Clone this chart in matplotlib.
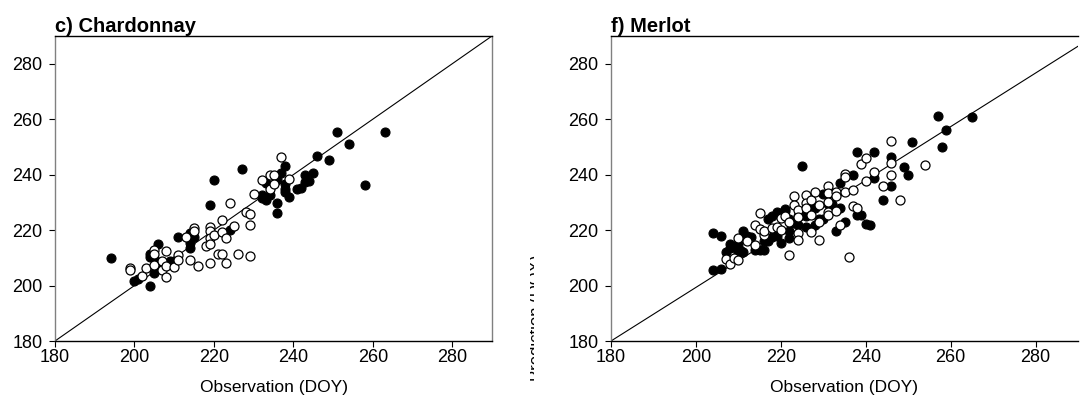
import matplotlib
matplotlib.use("Agg")
import matplotlib.pyplot as plt
from matplotlib.transforms import Bbox

plt.rcParams['font.family'] = ['Liberation Sans', 'DejaVu Sans']

# Chardonnay: observation vs prediction (DOY)
chard_fill_obs = [194, 200, 201, 204, 204, 204, 205, 205, 206, 206, 209, 210, 211, 214, 214, 214,
                  215, 219, 220, 224, 227, 232, 232, 233, 233, 234, 236, 236, 236, 237, 238, 238,
                  238, 238, 239, 241, 242, 243, 243, 244, 245, 246, 249, 251, 254, 258, 263]
chard_fill_pred = [210, 201.5, 202.2, 199.8, 210.4, 211.5, 204.4, 209.8, 215.1, 207, 208.9, 209,
                   217.5, 213.7, 219, 215.5, 217.5, 229.1, 237.9, 220, 242.2, 232.6, 231.5, 237.1,
                   231, 232.8, 229.8, 226.3, 238.6, 240.6, 243, 236.8, 235, 233.8, 232, 234.7,
                   235.3, 239.8, 237.4, 237.6, 240.6, 246.9, 245.1, 255.4, 251.1, 236.3, 255.3]
chard_open_obs = [199, 199, 202, 203, 205, 205, 205, 207, 207, 208, 208, 208, 210, 211, 211, 213,
                  214, 215, 215, 216, 218, 219, 219, 219, 219, 219, 220, 221, 222, 222, 222, 223,
                  223, 224, 225, 226, 228, 229, 229, 229, 230, 232, 234, 234, 235, 235, 237, 239]
chard_open_pred = [206.2, 205.5, 203.5, 206.5, 213, 211.3, 207.4, 208.8, 205.6, 212.5, 207.1, 203.2,
                   206.8, 210.9, 209.2, 217.5, 209.3, 220.6, 219.6, 207.1, 214.2, 221.1, 219.6,
                   217.1, 215.1, 208.3, 218.4, 211.3, 223.8, 219.3, 211.3, 217.3, 208, 229.6,
                   221.4, 211.3, 226.7, 225.9, 221.8, 210.7, 232.9, 238.2, 239.8, 235, 239.8,
                   236.8, 246.4, 238.3]

# Merlot: observation vs prediction (DOY)
merlot_fill_obs = [204, 206, 204, 206, 207, 208, 208, 209, 210, 210, 210.5, 211, 211, 212, 213, 214,
                   215, 216, 216, 217, 217, 218, 218, 219, 219, 220, 220, 221, 221, 222, 222, 222,
                   223, 223, 224, 224, 225, 225, 226, 226, 227, 227, 228, 228, 229, 230, 230, 231,
                   232, 232, 233, 234, 234, 235, 237, 238, 238, 239, 240, 241, 242, 242, 244, 246,
                   246, 249, 250, 251, 257, 258, 259, 265]
merlot_fill_pred = [219, 218, 205.5, 206, 212, 215, 213.5, 214, 215, 212, 213, 219.5, 212, 218, 217.5,
                    213, 212.8, 213, 216, 216, 224, 225, 217.5, 226.5, 218, 215.5, 226, 226.8,
                    227.5, 219.5, 217, 224, 222.5, 223, 222, 225, 243, 226, 221, 225, 227.5, 220.5,
                    222, 228, 224, 233, 224, 229.5, 233.5, 229.5, 219.6, 237, 228, 223, 240, 248,
                    225.5, 225.5, 222.2, 221.8, 248, 238.8, 231, 246.5, 236, 242.8, 239.8, 251.8,
                    261.3, 249.9, 256, 260.9]
merlot_open_obs = [207, 208, 209, 210, 210, 212, 214, 214, 215, 215, 216, 216, 218, 219, 220, 220,
                   221, 222, 222, 223, 223, 224, 224, 224, 224, 226, 226, 226, 227, 227, 227, 228,
                   229, 229, 229, 231, 231, 231, 231, 231, 233, 233, 233, 234, 235, 235, 235, 237,
                   237, 238, 236, 239, 240, 240, 242, 244, 246, 246, 246, 248, 254]
merlot_open_pred = [209.5, 207.8, 210, 209.2, 217, 216.2, 221.7, 214.6, 226, 220.5, 218.1, 219.5,
                    220.6, 221.2, 224.2, 220, 225, 223, 210.9, 232.2, 229, 227.4, 224.8, 218.8,
                    216.6, 232.8, 229.8, 228, 231, 225.5, 219.4, 233.8, 229, 223, 216.4, 236,
                    233.4, 230.2, 226.6, 225.5, 233.8, 232.2, 226.9, 222, 240.4, 239, 233.7, 234.4,
                    228.6, 227.8, 210.4, 243.7, 246.1, 237.7, 240.9, 235.9, 252.1, 244.2, 239.8,
                    231, 243.4]

ticks = [180, 200, 220, 240, 260, 280]
lim = (180, 290)
chard_line = ([180, 290], [180, 290])
merlot_line = ([180, 290], [180, 286.3])

W, H = 1080, 403
fig = plt.figure(figsize=(W / 100, H / 100), dpi=100)


def panel(rect, title, fo, fp, oo, op, line, show_right):
    ax = fig.add_axes([rect[0] / W, 1 - rect[3] / H, (rect[2] - rect[0]) / W,
                       (rect[3] - rect[1]) / H])
    ax.plot(line[0], line[1], color='black', lw=0.8, zorder=1)
    ax.scatter(fo, fp, s=42, c='black', edgecolors='black', linewidths=0.8, zorder=3)
    ax.scatter(oo, op, s=42, c='white', edgecolors='black', linewidths=0.9, zorder=3)
    ax.set_xlim(lim)
    ax.set_ylim(lim)
    ax.set_xticks(ticks)
    ax.set_yticks(ticks)
    ax.tick_params(direction='out', length=4, width=0.8, labelsize=13, pad=2)
    ax.tick_params(axis='y', pad=5)
    ax.spines['left'].set_color('#808080')
    ax.spines['right'].set_color('#808080')
    ax.spines['right'].set_visible(show_right)
    for s in ax.spines.values():
        s.set_linewidth(1.0)
    ax.set_xlabel('Observation (DOY)', fontsize=12.5, labelpad=10)
    ax.set_title(title, loc='left', fontsize=14.5, fontweight='bold', pad=1)
    return ax


panel((55, 36, 492, 341), 'c) Chardonnay', chard_fill_obs, chard_fill_pred,
      chard_open_obs, chard_open_pred, chard_line, True)
panel((611, 36, 1078, 341), 'f) Merlot', merlot_fill_obs, merlot_fill_pred,
      merlot_open_obs, merlot_open_pred, merlot_line, False)

# the right panel's y label is cut off in the original, only a sliver shows
t = fig.text(537 / W, 1 - 318 / H, 'Prediction (DOY)', rotation=90, fontsize=12,
             ha='center', va='center')
t.set_clip_box(Bbox.from_extents(530, 0, 534, H))
t.set_clip_on(True)

fig.savefig('out.png', dpi=100)
